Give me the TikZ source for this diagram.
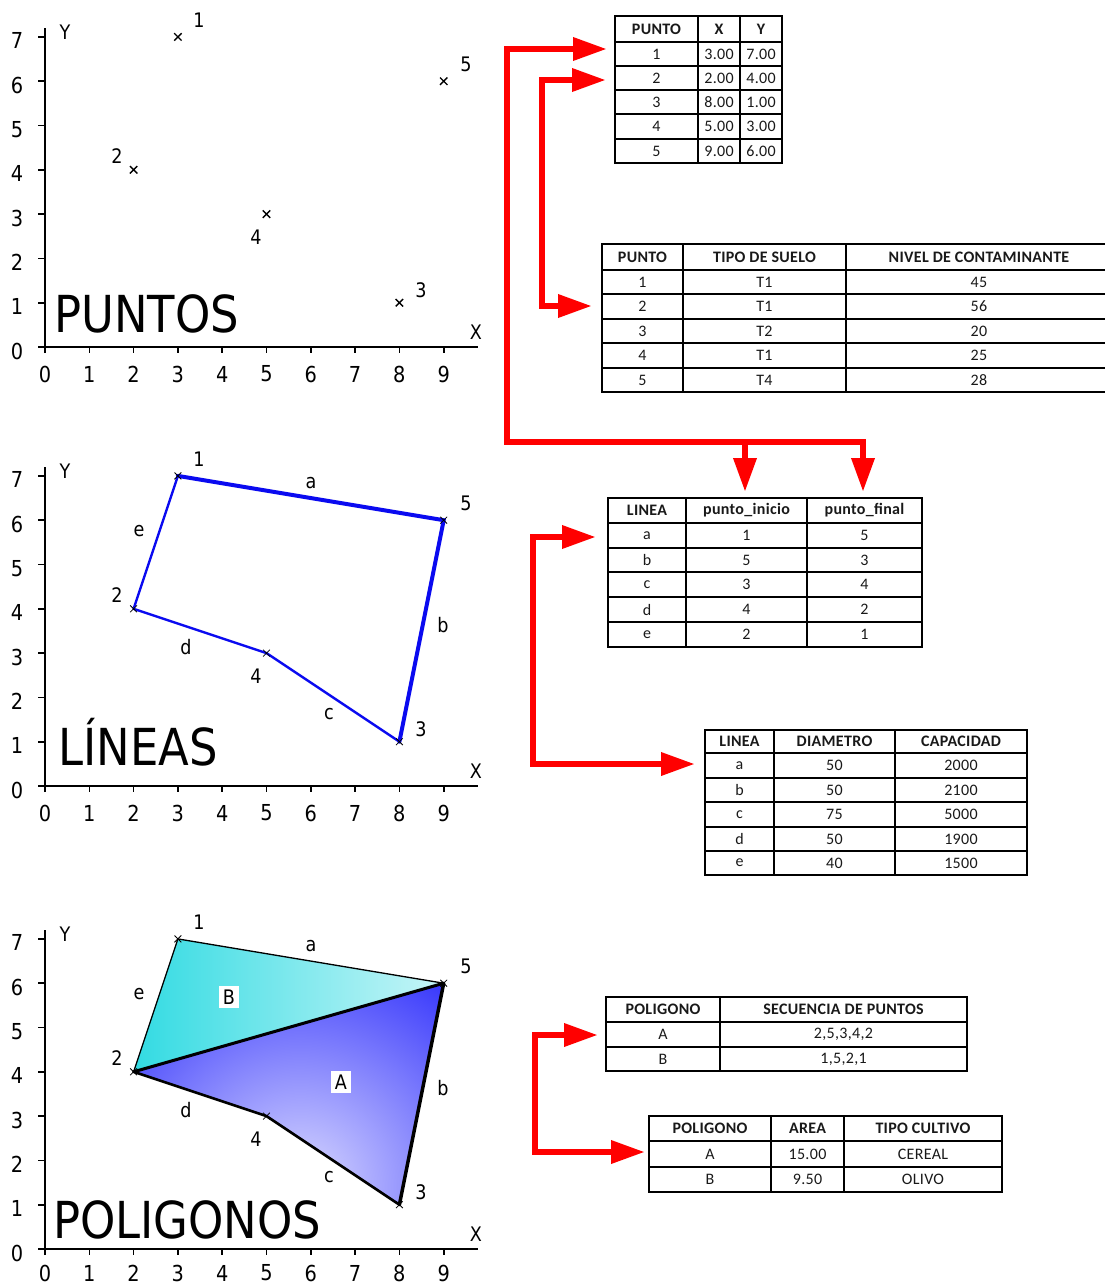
\documentclass[tikz,border=0pt]{standalone}
\usepackage{fontspec}
\usetikzlibrary{arrows.meta,shapes.misc}
\newfontfamily\dvs[FakeStretch=0.88]{DejaVu Sans}
\newfontfamily\calfont[LetterSpace=2]{Carlito}
\definecolor{redA}{RGB}{255,0,0}
\definecolor{cyanB}{RGB}{34,216,224}
\definecolor{blueL}{RGB}{10,10,240}
\definecolor{lightA}{RGB}{218,218,255}
\definecolor{darkA}{RGB}{8,8,250}

\tikzset{
 axisline/.style={line width=2pt, black},
 tickline/.style={line width=1.6pt, black},
 ticklab/.style={font=\dvs\fontsize{22}{24}\selectfont, inner sep=0pt},
 ptlab/.style={font=\dvs\fontsize{20}{22}\selectfont, inner sep=0pt},
 biglab/.style={font=\dvs\fontsize{51}{54}\selectfont, inner sep=0pt, anchor=base west},
 cellbox/.style={draw=black, line width=1.4pt, inner sep=0pt, outer sep=0pt,
   font=\calfont\fontsize{16}{18}\selectfont, text=black!90},
 bigcell/.style={font=\calfont\fontsize{18}{20}\selectfont},
 redline/.style={draw=redA, line width=6.5pt, line join=miter},
 rend/.style={-{Triangle[length=34pt,width=22pt]}},
 rboth/.style={{Triangle[length=34pt,width=22pt]}-{Triangle[length=34pt,width=22pt]}},
 mk/.style={draw=black, cross out, minimum size=6pt, inner sep=0pt, line width=1.4pt},
 mkthin/.style={draw=black, cross out, minimum size=6pt, inner sep=0pt, line width=0.8pt},
}

\newcommand\cellnode[6]{\node[cellbox, minimum width={#3-#2}, minimum height={#5-#4}] (#1) at ({(#2+#3)/2},{(#4+#5)/2}) {#6};}

\newcommand\defpts[2]{%
 \coordinate (#1p1) at (177.9,#2-310.1);
 \coordinate (#1p2) at (133.6,#2-177.2);
 \coordinate (#1p3) at (399.4,#2-44.3);
 \coordinate (#1p4) at (266.5,#2-132.9);
 \coordinate (#1p5) at (443.7,#2-265.8);
}

% #1 prefix, #2 y0, #3 offset of x tick labels
\newcommand\axes[3]{%
 \draw[axisline] (38,#2) -- (478,#2);
 \draw[axisline] (45,#2+6) -- (45,#2-319);
 \foreach \i in {1,...,9} \draw[tickline] ({45+44.3*\i},#2) -- ({45+44.3*\i},#2+6);
 \foreach \i in {1,...,7} \draw[tickline] (38,{#2-44.3*\i}) -- (45,{#2-44.3*\i});
 \foreach \i in {0,...,9} \node[ticklab] (#1xl\i) at ({45+44.3*\i},#2+#3) {\i};
 \foreach \i in {0,...,7} \node[ticklab] (#1yl\i) at (17,{#2-44.3*\i+4}) {\i};
 \node[ptlab] (#1Y) at (65,#2-315) {Y};
 \node[ptlab] (#1X) at (476,#2-15) {X};
}

\newcommand\ptlabels[2]{%
 \node[ptlab] (#1n1) at (199,#2-327) {1};
 \node[ptlab] (#1n2) at (117,#2-191) {2};
 \node[ptlab] (#1n3) at (421,#2-57) {3};
 \node[ptlab] (#1n4) at (256,#2-110) {4};
 \node[ptlab] (#1n5) at (466,#2-283) {5};
}

\newcommand\edgelabels[2]{%
 \node[ptlab] (#1ea) at (311,#2-303) {a};
 \node[ptlab] (#1ee) at (139,#2-255) {e};
 \node[ptlab] (#1ed) at (186,#2-139) {d};
 \node[ptlab] (#1ec) at (329,#2-72) {c};
 \node[ptlab] (#1eb) at (443,#2-161) {b};
}

\begin{document}
\begin{tikzpicture}[x=1pt,y=-1pt]
\fill[white] (0,0) rectangle (1105,1285);
\useasboundingbox (0,0) rectangle (1105,1285);

% ===== Panel 1: PUNTOS =====
\defpts{A}{347}
\axes{A}{347}{27}
\foreach \k in {1,...,5} \node[mk] (Am\k) at (Ap\k) {};
\ptlabels{A}{347}
\node[biglab] (tPuntos) at (54,332) {PUNTOS};

% ===== Panel 2: LINEAS =====
\defpts{B}{786}
\axes{B}{786}{27}
\draw[blueL, line width=4pt, line cap=round] (Bp1) -- (Bp5) -- (Bp3);
\draw[blueL, line width=2.4pt, line join=round, line cap=round] (Bp3) -- (Bp4) -- (Bp2) -- (Bp1);
\foreach \k in {1,...,5} \node[mkthin] (Bm\k) at (Bp\k) {};
\ptlabels{B}{786}
\edgelabels{B}{786}
\node[biglab] (tLineas) at (58,765) {LÍNEAS};

% ===== Panel 3: POLIGONOS =====
\defpts{C}{1249}
\begin{scope}
 \clip (Cp1) -- (Cp5) -- (Cp2) -- cycle;
 \shade[left color=cyanB, right color=white] (100,925) rectangle (560,1085);
\end{scope}
\begin{scope}
 \clip (Cp2) -- (Cp5) -- (Cp3) -- (Cp4) -- cycle;
 \shade[inner color=lightA, outer color=darkA] (300,1185) circle (320);
\end{scope}
\axes{C}{1249}{24}
\draw[line width=1.3pt, line join=round] (Cp2) -- (Cp1) -- (Cp5);
\draw[line width=3pt, line cap=round] (Cp2) -- (Cp5);
\draw[line width=3.5pt, line cap=round] (Cp5) -- (Cp3);
\draw[line width=2.6pt, line join=round, line cap=round] (Cp3) -- (Cp4) -- (Cp2);
\foreach \k in {1,...,5} \node[mkthin] (Cm\k) at (Cp\k) {};
\ptlabels{C}{1249}
\edgelabels{C}{1249}
\node[ptlab, fill=white, inner sep=4pt] (labB) at (229,997) {B};
\node[ptlab, fill=white, inner sep=4pt] (labA) at (341,1082) {A};
\node[biglab] (tPoligonos) at (53,1238) {POLIGONOS};

% ===== Table 1 =====
\cellnode{tAh1}{615}{698}{16}{42}{\bfseries PUNTO}
\cellnode{tAh2}{698}{740}{16}{42}{\bfseries X}
\cellnode{tAh3}{740}{782}{16}{42}{\bfseries Y}
\foreach \r/\ya/\yb/\a/\b/\c in {1/42/66/1/3.00/7.00, 2/66/90/2/2.00/4.00, 3/90/114/3/8.00/1.00, 4/114/139/4/5.00/3.00, 5/139/163/5/9.00/6.00}{
 \cellnode{tA\r a}{615}{698}{\ya}{\yb}{\a}
 \cellnode{tA\r b}{698}{740}{\ya}{\yb}{\b}
 \cellnode{tA\r c}{740}{782}{\ya}{\yb}{\c}
}

% ===== Table 2 =====
\cellnode{tBh1}{602}{683}{244}{270}{\bfseries PUNTO}
\cellnode{tBh2}{683}{846}{244}{270}{\bfseries TIPO DE SUELO}
\cellnode{tBh3}{846}{1112}{244}{270}{\bfseries NIVEL DE CONTAMINANTE}
\foreach \r/\ya/\yb/\a/\b/\c in {1/270/294/1/T1/45, 2/294/319/2/T1/56, 3/319/343/3/T2/20, 4/343/368/4/T1/25, 5/368/392/5/T4/28}{
 \cellnode{tB\r a}{602}{683}{\ya}{\yb}{\a}
 \cellnode{tB\r b}{683}{846}{\ya}{\yb}{\b}
 \cellnode{tB\r c}{846}{1112}{\ya}{\yb}{\c}
}

% ===== Table 3 =====
\cellnode{tCh1}{608}{686}{498}{523}{\bfseries LINEA}
\cellnode{tCh2}{686}{807}{498}{523}{\bfseries punto\_inicio}
\cellnode{tCh3}{807}{922}{498}{523}{\bfseries punto\_final}
\foreach \r/\ya/\yb/\a/\b/\c in {1/523/548/a/1/5, 2/548/572/b/5/3, 3/572/597/c/3/4, 4/597/622/d/4/2, 5/622/647/e/2/1}{
 \cellnode{tC\r a}{608}{686}{\ya}{\yb}{\a}
 \cellnode{tC\r b}{686}{807}{\ya}{\yb}{\b}
 \cellnode{tC\r c}{807}{922}{\ya}{\yb}{\c}
}

% ===== Table 4 =====
\cellnode{tDh1}{705}{774}{730}{753}{\bfseries LINEA}
\cellnode{tDh2}{774}{895}{730}{753}{\bfseries DIAMETRO}
\cellnode{tDh3}{895}{1027}{730}{753}{\bfseries CAPACIDAD}
\foreach \r/\ya/\yb/\a/\b/\c in {1/753/778/a/50/2000, 2/778/802/b/50/2100, 3/802/827/c/75/5000, 4/827/851/d/50/1900, 5/851/875/e/40/1500}{
 \cellnode{tD\r a}{705}{774}{\ya}{\yb}{\a}
 \cellnode{tD\r b}{774}{895}{\ya}{\yb}{\b}
 \cellnode{tD\r c}{895}{1027}{\ya}{\yb}{\c}
}

% ===== Table 5 =====
\cellnode{tEh1}{606}{720}{997}{1022}{\bfseries POLIGONO}
\cellnode{tEh2}{720}{967}{997}{1022}{\bfseries SECUENCIA DE PUNTOS}
\cellnode{tE1a}{606}{720}{1022}{1047}{A}
\cellnode{tE1b}{720}{967}{1022}{1047}{2,5,3,4,2}
\cellnode{tE2a}{606}{720}{1047}{1071}{B}
\cellnode{tE2b}{720}{967}{1047}{1071}{1,5,2,1}

% ===== Table 6 =====
\begin{scope}[every node/.append style={bigcell}]
\cellnode{tFh1}{649}{771}{1116}{1141}{\bfseries POLIGONO}
\cellnode{tFh2}{771}{844}{1116}{1141}{\bfseries AREA}
\cellnode{tFh3}{844}{1002}{1116}{1141}{\bfseries TIPO CULTIVO}
\cellnode{tF1a}{649}{771}{1141}{1167}{A}
\cellnode{tF1b}{771}{844}{1141}{1167}{15.00}
\cellnode{tF1c}{844}{1002}{1141}{1167}{CEREAL}
\cellnode{tF2a}{649}{771}{1167}{1192}{B}
\cellnode{tF2b}{771}{844}{1167}{1192}{9.50}
\cellnode{tF2c}{844}{1002}{1167}{1192}{OLIVO}
\end{scope}

% ===== Red arrows =====
\coordinate (r1s) at (607,49);
\coordinate (r1a) at (507,49);
\coordinate (r1b) at (507,442);
\coordinate (r1c) at (863,442);
\coordinate (r1e) at (863,492);
\coordinate (r1m) at (745,442);
\coordinate (r1f) at (745,492);
\draw[redline, rboth] (r1s) -- (r1a) -- (r1b) -- (r1c) -- (r1e);
\draw[redline, rend] (r1m) -- (r1f);

\coordinate (r2s) at (606,80);
\coordinate (r2a) at (542,80);
\coordinate (r2b) at (542,306);
\coordinate (r2e) at (592,306);
\draw[redline, rboth] (r2s) -- (r2a) -- (r2b) -- (r2e);

\coordinate (r3s) at (596,537);
\coordinate (r3a) at (533,537);
\coordinate (r3b) at (533,764);
\coordinate (r3e) at (695,764);
\draw[redline, rboth] (r3s) -- (r3a) -- (r3b) -- (r3e);

\coordinate (r4s) at (598,1035);
\coordinate (r4a) at (535,1035);
\coordinate (r4b) at (535,1152);
\coordinate (r4e) at (645,1152);
\draw[redline, rboth] (r4s) -- (r4a) -- (r4b) -- (r4e);
\end{tikzpicture}
\end{document}
